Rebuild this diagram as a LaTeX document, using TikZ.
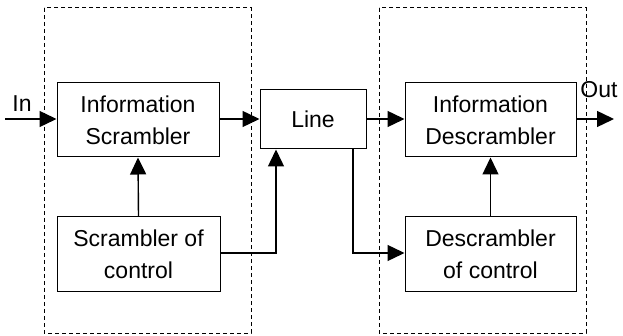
\documentclass[tikz,border=0pt]{standalone}
\usepackage{fontspec}
\setmainfont{Liberation Sans}
\usetikzlibrary{arrows.meta}
\tikzset{block/.style={draw, line width=1pt, align=center, inner sep=0pt},
         flow/.style={line width=1.4pt, -{Triangle[length=17pt, width=16pt]}},
         frame/.style={line width=1pt, dash pattern=on 4pt off 3pt}}

\begin{document}
\begin{tikzpicture}[x=1pt, y=-1pt, font=\fontsize{23}{32}\selectfont]
            \useasboundingbox (0, 0) rectangle (623, 336);
            \draw[frame] (44, 8) rectangle (251, 333);
            \draw[frame] (379, 8) rectangle (586, 333);
            \node[block, minimum width=162pt, minimum height=74pt] (scr) at (138, 120) {Information\\Scrambler};
            \node[block, minimum width=163pt, minimum height=75pt] (scrctl) at (138.5, 254.5) {Scrambler of\\control};
            \node[block, minimum width=106pt, minimum height=59pt] (line) at (313, 119.5) {Line};
            \node[block, minimum width=171pt, minimum height=74pt] (descr) at (490.5, 120) {Information\\Descrambler};
            \node[block, minimum width=171pt, minimum height=75pt] (descrctl) at (490.5, 254.5) {Descrambler\\of control};
            \coordinate (in) at (5, 119);
            \coordinate (out) at (614, 119);
            \node (inlbl) at (22, 104) {In};
            \node (outlbl) at (599, 90) {Out};
            \draw[flow] (in) -- (in -| scr.west);
            \draw[flow] (scr.east |- in) -- (line.west |- in);
            \draw[flow] (scrctl.north) -- (scr.south);
            \draw[flow] (scrctl.east |- 0, 253) -| (276, 0 |- line.south);
            \draw[flow] (line.east |- in) -- (descr.west |- in);
            \draw[flow] (353, 0 |- line.south) |- (descrctl.west |- 0, 253);
            \draw[flow] (descrctl.north) -- (descr.south);
            \draw[flow] (descr.east |- in) -- (out);
        \end{tikzpicture}
\end{document}
